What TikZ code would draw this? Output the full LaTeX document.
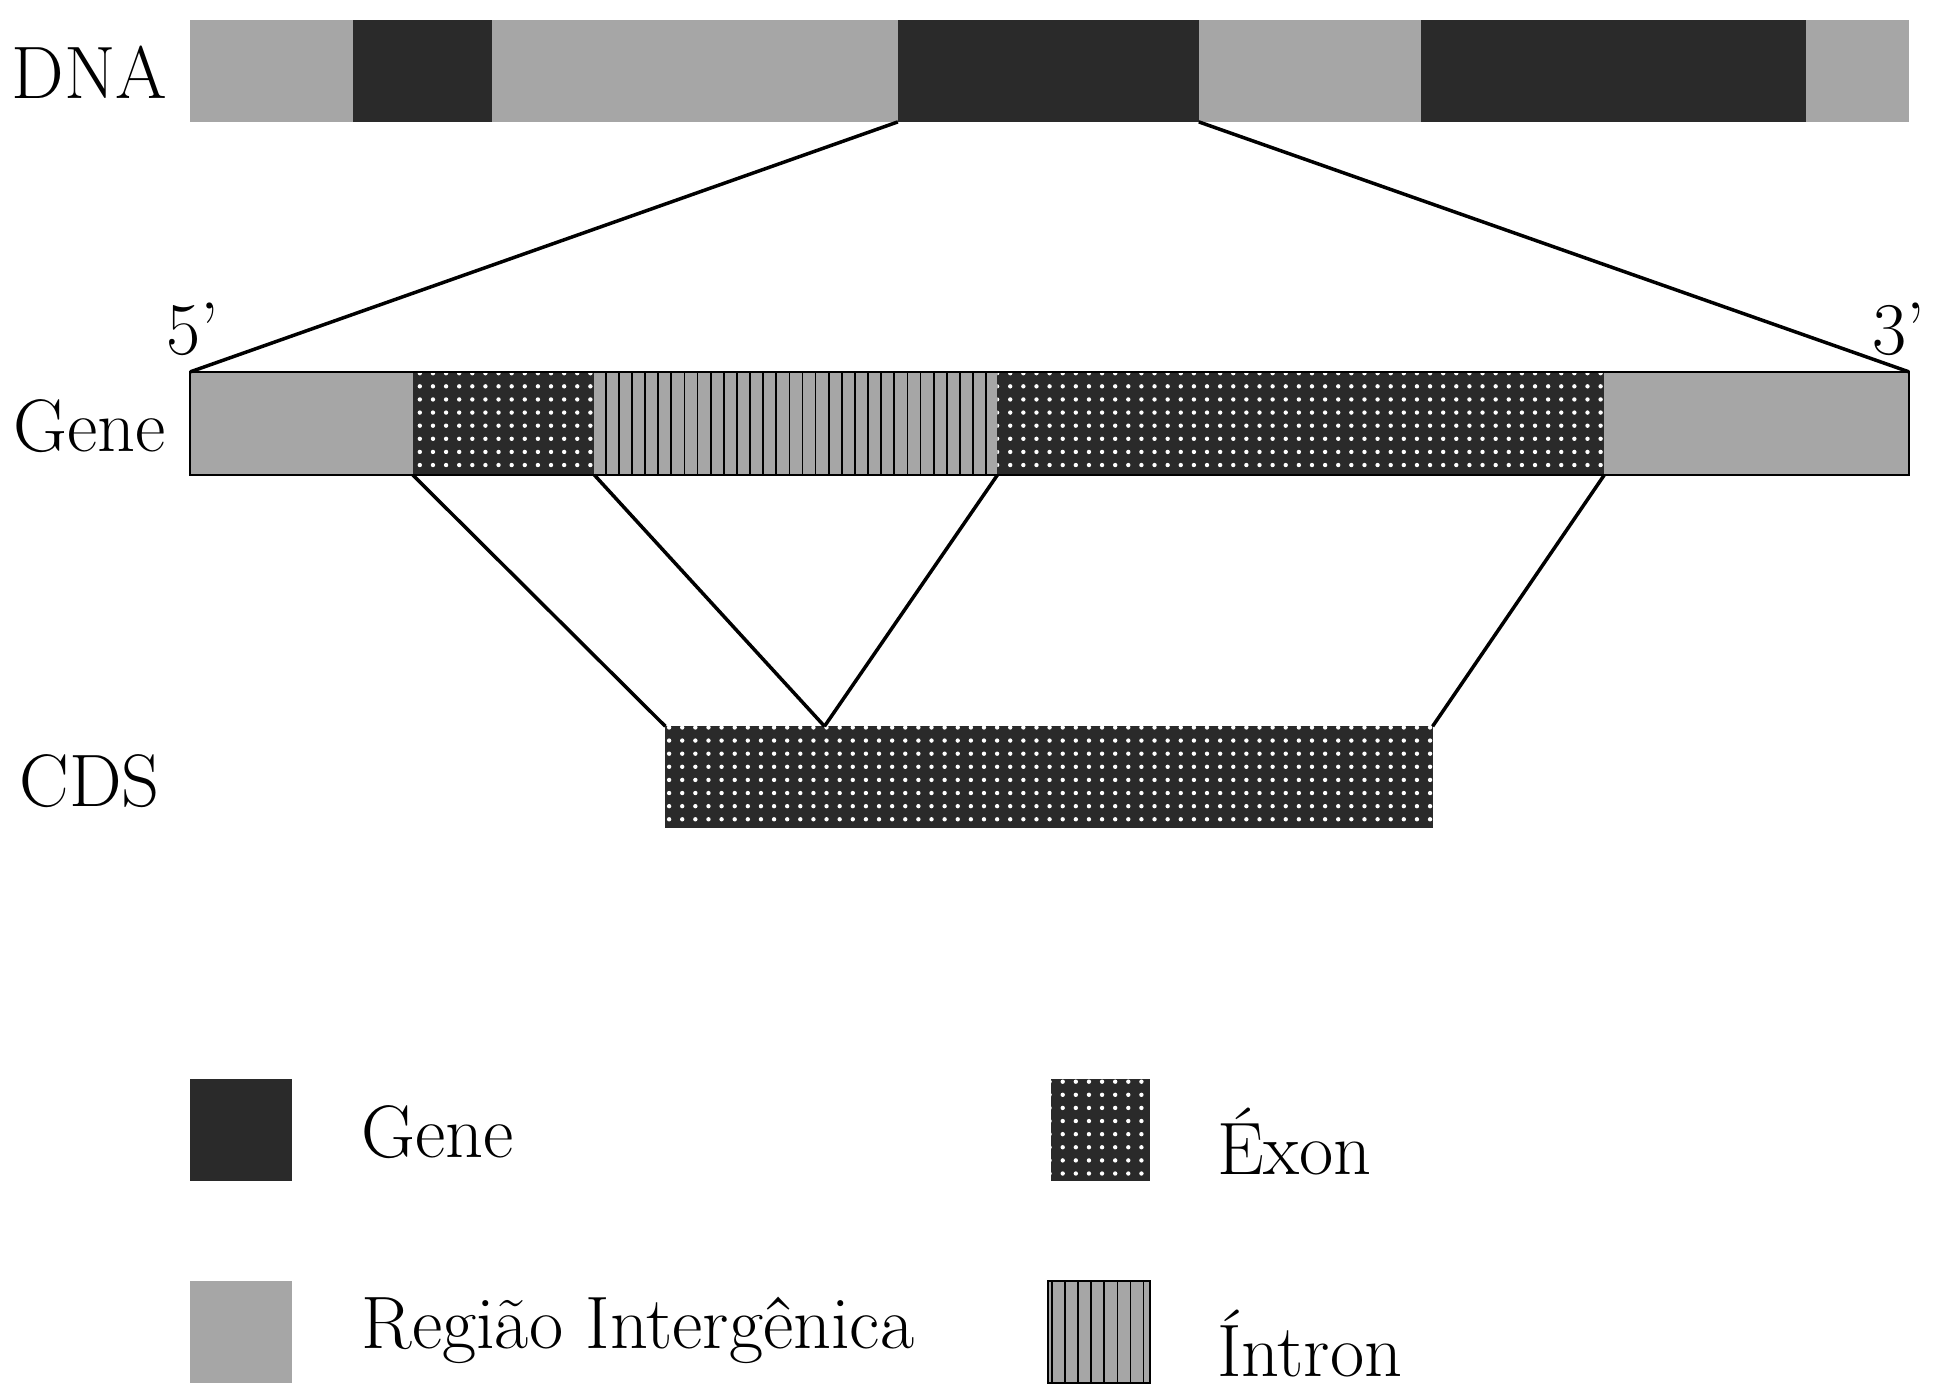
\documentclass[tikz,border=0pt]{standalone}
\usepackage{fontspec}
\usetikzlibrary{patterns}
\definecolor{genecol}{HTML}{2A2A2A}
\definecolor{intercol}{HTML}{A6A6A6}
\tikzset{
  gene/.style={fill=genecol},
  inter/.style={fill=intercol},
  exon/.style={fill=genecol, postaction={pattern=dots, pattern color=white}},
  intron/.style={fill=intercol, postaction={pattern=vertical lines, pattern color=black}},
  lbl/.style={font=\fontsize{17}{20}\selectfont, inner sep=0pt},
  link/.style={thick}
}
\begin{document}
\begin{tikzpicture}[x=0.01cm,y=-0.01cm]
  \useasboundingbox (0,0) rectangle (1560,1123);
  % DNA
  \fill[inter] (153,16) rectangle (1535,98);
  \foreach \a/\b in {284/396, 722/964, 1143/1452}{
    \fill[gene] (\a,16) rectangle (\b,98);
  }
  \coordinate (dl) at (722,98);
  \coordinate (dr) at (964,98);
  % gene
  \fill[inter] (153,299) rectangle (332,382);
  \fill[exon] (332,299) rectangle (478,382);
  \fill[intron] (478,299) rectangle (802,382);
  \fill[exon] (802,299) rectangle (1290,382);
  \fill[inter] (1290,299) rectangle (1535,382);
  \draw (153,299) rectangle (1535,382);
  \coordinate (gl) at (153,299);
  \coordinate (gr) at (1535,299);
  \coordinate (e1) at (332,382);
  \coordinate (i1) at (478,382);
  \coordinate (i2) at (802,382);
  \coordinate (e2) at (1290,382);
  % CDS
  \fill[exon] (535,584) rectangle (1152,666);
  \coordinate (cl) at (535,584);
  \coordinate (cm) at (663,584);
  \coordinate (cr) at (1152,584);
  \draw[link] (dl) -- (gl);
  \draw[link] (dr) -- (gr);
  \draw[link] (e1) -- (cl);
  \draw[link] (i1) -- (cm);
  \draw[link] (i2) -- (cm);
  \draw[link] (e2) -- (cr);
  \node[lbl] (dna) at (72,58) {DNA};
  \node[lbl] (genel) at (72,343) {Gene};
  \node[lbl] (cds) at (72,628) {CDS};
  \node[lbl] (five) at (155,265) {5'};
  \node[lbl] (three) at (1527,265) {3'};
  % legend
  \fill[gene] (153,868) rectangle (235,950);
  \fill[inter] (153,1030) rectangle (235,1112);
  \fill[exon] (845,868) rectangle (925,950);
  \fill[intron] (843,1030) rectangle (925,1112);
  \draw (843,1030) rectangle (925,1112);
  \node[lbl, anchor=west] (lg) at (290,910) {Gene};
  \node[lbl, anchor=west] (lr) at (290,1070) {Região Intergênica};
  \node[lbl, anchor=west] (le) at (978,918) {Éxon};
  \node[lbl, anchor=west] (li) at (978,1080) {Íntron};
\end{tikzpicture}
\end{document}
